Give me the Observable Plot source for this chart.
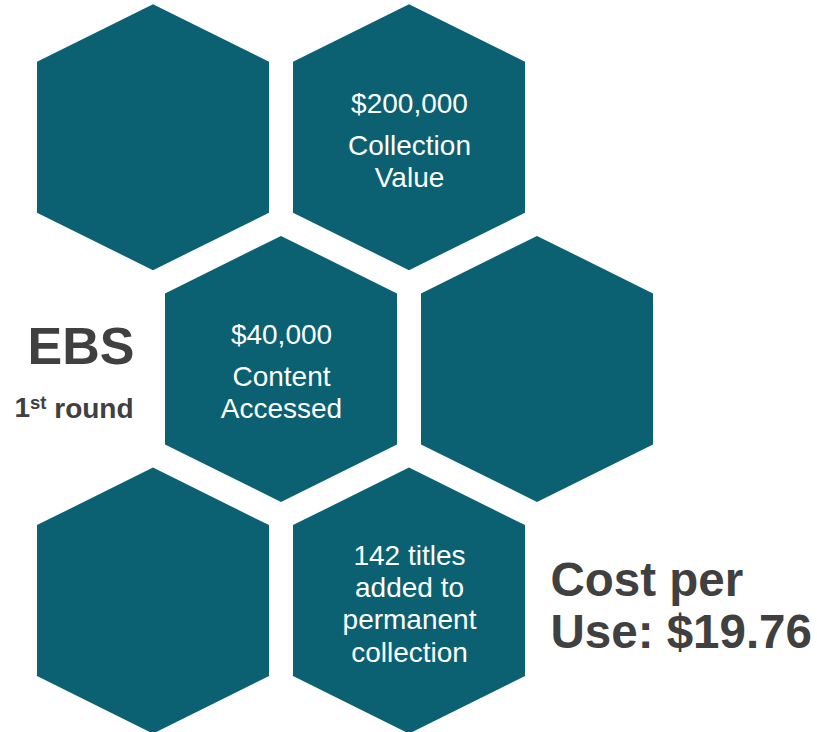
<!DOCTYPE html>
<html>
<head>
<meta charset="utf-8">
<script src="https://cdn.jsdelivr.net/npm/d3@7"></script>
<script src="https://cdn.jsdelivr.net/npm/@observablehq/plot@0.6"></script>
<style>
  html, body { margin: 0; padding: 0; background: #ffffff; }
  #chart svg { display: block; }
</style>
</head>
<body>
<div id="chart"></div>
<script>
// ---- Data ----
const hexCol   = [0, 1, 0.5, 1.5, 0, 1];
const hexRow   = [0, 0, 1,   1,   2, 2];
const hexValue = ["", "$200,000", "$40,000", "", "", ""];
const hexLabel = ["", "Collection\nValue", "Content\nAccessed", "", "", "142 titles\nadded to\npermanent\ncollection"];
const programName  = "EBS";
const programRound = "1st round";
const costPerUse   = "Cost per\nUse: $19.76";

// ---- Build tables ----
const hexes = hexCol.map((c, i) => ({id: i, col: c, row: hexRow[i], value: hexValue[i], label: hexLabel[i]}));

// hexagon outline (pointy top) in grid units
const HW = 116 / 256;     // half width
const TP = 133 / 231.7;   // top/bottom vertex
const SH = 75.5 / 231.7;  // shoulder
const hexPts = hexes.flatMap(h => [
  {id: h.id, x: h.col - HW, y1: h.row - SH, y2: h.row + SH},
  {id: h.id, x: h.col,      y1: h.row - TP, y2: h.row + TP},
  {id: h.id, x: h.col + HW, y1: h.row - SH, y2: h.row + SH}
]);

const W = 817, H = 732;
const X0 = 153, XU = 256, Y0 = 137.2, YU = 231.7;
const teal = "#0b6172";
const grey = "#404040";
const font = "'Liberation Sans', Arial, Helvetica, sans-serif";

const chart = Plot.plot({
  width: W,
  height: H,
  margin: 0,
  style: {background: "#ffffff", fontFamily: font},
  x: {domain: [-X0 / XU, (W - X0) / XU], axis: null},
  y: {domain: [-Y0 / YU, (H - Y0) / YU], reverse: true, axis: null},
  marks: [
    Plot.areaY(hexPts, {x: "x", y1: "y1", y2: "y2", z: "id", fill: teal, curve: "linear"}),
    // value line in hexes
    Plot.text(hexes.filter(d => d.value), {
      x: "col", y: "row", text: "value", dy: -34,
      fill: "#ffffff", fontSize: 28, fontFamily: font
    }),
    // label under a value
    Plot.text(hexes.filter(d => d.value && d.label), {
      x: "col", y: "row", text: "label", dy: -6, lineAnchor: "top",
      lineHeight: 1.15, fill: "#ffffff", fontSize: 28, fontFamily: font
    }),
    // label without value
    Plot.text(hexes.filter(d => !d.value && d.label), {
      x: "col", y: "row", text: "label", dy: 2, lineAnchor: "middle",
      lineHeight: 1.15, fill: "#ffffff", fontSize: 28, fontFamily: font
    }),
    // side annotations
    Plot.text([programName], {
      x: (80.5 - X0) / XU, y: (347 - Y0) / YU, text: d => d,
      fill: grey, fontSize: 52, fontWeight: "bold", fontFamily: font
    }),
    Plot.text([programRound], {
      x: (73.5 - X0) / XU, y: (408 - Y0) / YU, text: d => d,
      fill: grey, fontSize: 28, fontWeight: "bold", fontFamily: font
    }),
    Plot.text([costPerUse], {
      x: (550 - X0) / XU, y: (605 - Y0) / YU, text: d => d, textAnchor: "start",
      lineHeight: 1.1, fill: grey, fontSize: 47.5, fontWeight: "bold", fontFamily: font
    })
  ]
});

// superscript "st"
d3.select(chart).selectAll("text").each(function() {
  const t = d3.select(this);
  if (t.text() === programRound && this.children.length === 0) {
    const m = programRound.match(/^(\d+)(\D+?)( .*)$/);
    t.text("");
    t.append("tspan").text(m[1]);
    t.append("tspan").attr("dy", "-0.45em").attr("font-size", "66%").text(m[2]);
    t.append("tspan").attr("dy", "0.3em").text(m[3]);
  }
});

document.getElementById("chart").appendChild(chart);
</script>
</body>
</html>
